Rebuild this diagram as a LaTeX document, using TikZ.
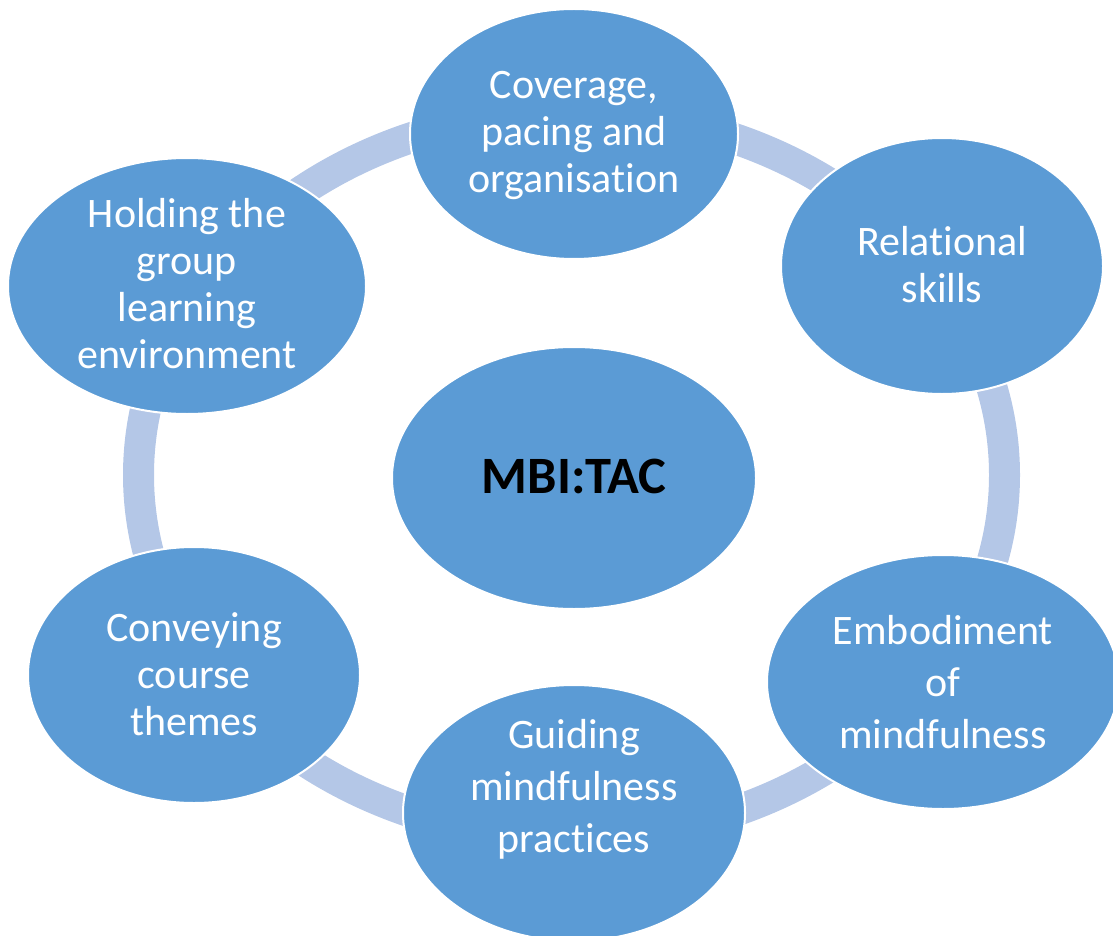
\documentclass[tikz,border=0pt]{standalone}
\usepackage{fontspec}
\setmainfont{Carlito}[RawFeature=-liga, RawFeature=-clig, RawFeature=-calt, RawFeature=-dlig]
\usetikzlibrary{shapes.geometric}
\definecolor{discfill}{HTML}{5B9BD5}
\definecolor{ringblue}{HTML}{B4C7E7}
\begin{document}
\begin{tikzpicture}[x=1pt,y=-1pt,
  disc/.style={ellipse, fill=discfill, draw=white, line width=2pt, inner sep=0pt},
  caption/.style={align=center, text=white, anchor=base, inner sep=0pt,
                  font=\fontsize{42}{47}\selectfont},
  loose/.style={font=\fontsize{42}{52}\selectfont},
  ring/.style={draw=ringblue, line width=31pt}]
\useasboundingbox (0,0) rectangle (1113,936);
\clip (0,0) rectangle (1113,936);

% cycle ring behind the six outer discs
\coordinate (hub) at (571.5,475);
\draw[ring] (hub) ellipse [x radius=433, y radius=363];

% outer discs
\node[disc, minimum width=328, minimum height=250] (cov)  at (574,134) {};
\node[disc, minimum width=322, minimum height=256] (rel)  at (942,266) {};
\node[disc, minimum width=352, minimum height=254] (emb)  at (943,682) {};
\node[disc, minimum width=342, minimum height=256] (gui)  at (574,813) {};
\node[disc, minimum width=332, minimum height=256] (con)  at (194,675) {};
\node[disc, minimum width=358, minimum height=256] (hold) at (187,286) {};

% central disc
\node[disc, minimum width=364, minimum height=262] (core) at (574,478) {};

% captions (anchored on the baseline of their last line)
\node[caption] (covtxt)  at (574,193) {Coverage,\\pacing and\\organisation};
\node[caption] (reltxt)  at (942,302) {Relational\\skills};
\node[caption, loose] (embtxt) at (943,748) {Embodiment\\of\\mindfulness};
\node[caption, loose] (guitxt) at (574,852) {Guiding\\mindfulness\\practices};
\node[caption] (contxt)  at (194,735) {Conveying\\course\\themes};
\node[caption] (holdtxt) at (187,368) {Holding the\\group\\learning\\environment};
\node[anchor=base, inner sep=0pt, text=black,
      font=\fontsize{52.5}{62}\selectfont\bfseries] (coretxt) at (574,493) {MBI:TAC};
\end{tikzpicture}
\end{document}
